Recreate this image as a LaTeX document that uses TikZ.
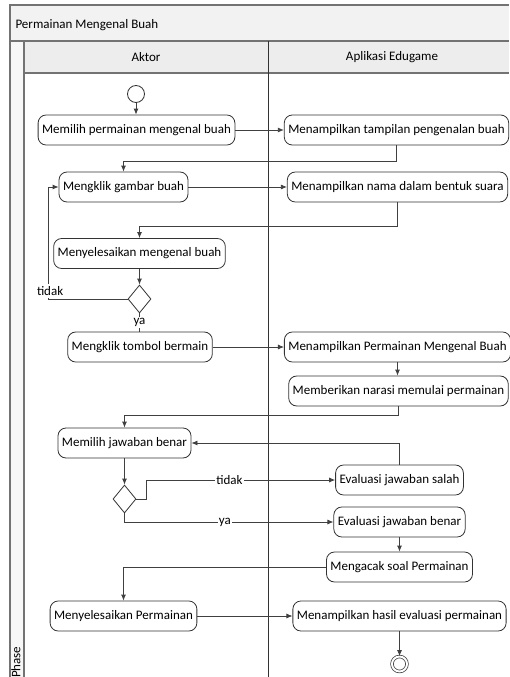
\documentclass[tikz,border=0pt]{standalone}
\usepackage{fontspec}
\setmainfont{Carlito}
\usepackage{tikz}
\usetikzlibrary{positioning}
\usetikzlibrary{arrows.meta}
\usetikzlibrary{shapes.geometric}

\begin{document}
\begin{tikzpicture}[x=1pt,y=-1pt,font=\fontsize{13}{15}\selectfont,
  act/.style={draw=black!80,fill=white,rounded corners=8pt,line width=0.8pt,minimum height=30pt,inner xsep=4pt},
  dec/.style={draw=black!80,fill=white,diamond,minimum width=23pt,minimum height=28pt,inner sep=0pt,line width=0.8pt},
  arr/.style={draw=black!75,line width=0.8pt,-{Latex[length=6pt,width=5pt]}},
  flow/.style={draw=black!75,line width=0.8pt},
  lbl/.style={fill=white,inner sep=1pt},
  frame/.style={draw=black!55,line width=1.1pt}]
\useasboundingbox (0,0) rectangle (509,677);
%swimlane frame
\fill [black!5] (10,5) rectangle (509,41);
\fill [black!7] (24,41) rectangle (509,73);
\fill [black!3] (10,41) rectangle (24,677);
\draw [frame] (10,677)--(10,5)--(509,5);
\draw [frame] (10,41)--(509,41);
\draw [frame] (24,677)--(24,41);
\draw [frame] (24,73)--(509,73);
\draw [black!80,line width=0.8pt] (268,41)--(268,677);
\node [anchor=west] (judul) at (12,25) {Permainan Mengenal Buah};
\node (aktor) at (146,57) {Aktor};
\node (aplikasi) at (392,57) {Aplikasi Edugame};
\node [rotate=90,anchor=east] (phase) at (16,643) {Phase};
%Aktor
\node [circle,draw=black!80,fill=white,line width=0.8pt,minimum size=17pt,inner sep=0pt] (mulai) at (136,94) {};
\node [act] (m1) at (136.5,130) {Memilih permainan mengenal buah};
\node [act] (m2) at (123.5,187) {Mengklik gambar buah};
\node [act] (m3) at (139.5,253.5) {Menyelesaikan mengenal buah};
\node [dec] (d1) at (139.5,299) {};
\node [act] (m4) at (140,347) {Mengklik tombol bermain};
\node [act] (m5) at (124.5,443) {Memilih jawaban benar};
\node [dec] (d2) at (124.5,499) {};
\node [act] (m6) at (123.5,616) {Menyelesaikan Permainan};
%Aplikasi Edugame
\node [act] (a1) at (396.5,130) {Menampilkan tampilan pengenalan buah};
\node [act] (a2) at (397.5,187) {Menampilkan nama dalam bentuk suara};
\node [act] (a3) at (397.5,347) {Menampilkan Permainan Mengenal Buah};
\node [act] (a4) at (398.5,391) {Memberikan narasi memulai permainan};
\node [act] (e1) at (399.5,480) {Evaluasi jawaban salah};
\node [act] (e2) at (399.5,522) {Evaluasi jawaban benar};
\node [act] (a5) at (399.5,567) {Mengacak soal Permainan};
\node [act] (a6) at (399.5,616) {Menampilkan hasil evaluasi permainan};
\node [circle,draw=black!80,double,double distance=2pt,line width=0.7pt,minimum size=15pt,inner sep=0pt] (selesai) at (399.5,664) {};
%alur
\draw [arr] (mulai) -- (mulai |- m1.north);
\draw [arr] (m1) -- (a1);
\draw [arr] (a1.south) -- ++(0,16) -| (m2.north);
\draw [arr] (m2) -- (a2);
\draw [arr] (a2.south) -- ++(0,24) -| (m3.north);
\draw [arr] (m3) -- (d1);
\draw [arr] (d1.west) -- ++(-79,0) node [lbl,anchor=south west,xshift=-13pt,yshift=1pt,inner ysep=2pt] {tidak} |- (m2.west);
\draw [flow] (d1.south) -- node [lbl] {ya} (d1 |- m4.north);
\draw [arr] (m4) -- (a3);
\draw [arr] (a3) -- (a3 |- a4.north);
\draw [arr] (a4.south) -- ++(0,9) -| (m5.north);
\draw [arr] (m5) -- (d2);
\draw [arr] (d2.east) -- ++(10,0) |- node [lbl,pos=0.72] {tidak} (e1.west);
\draw [arr] (d2.south) |- node [lbl,pos=0.74] {ya} (e2.west);
\draw [arr] (e1.north) |- (m5.east);
\draw [arr] (e2) -- (a5);
\draw [arr] (a5.west) -| (m6.north);
\draw [arr] (m6) -- (a6);
\draw [arr] (a6) -- (selesai);
\end{tikzpicture}
\end{document}
